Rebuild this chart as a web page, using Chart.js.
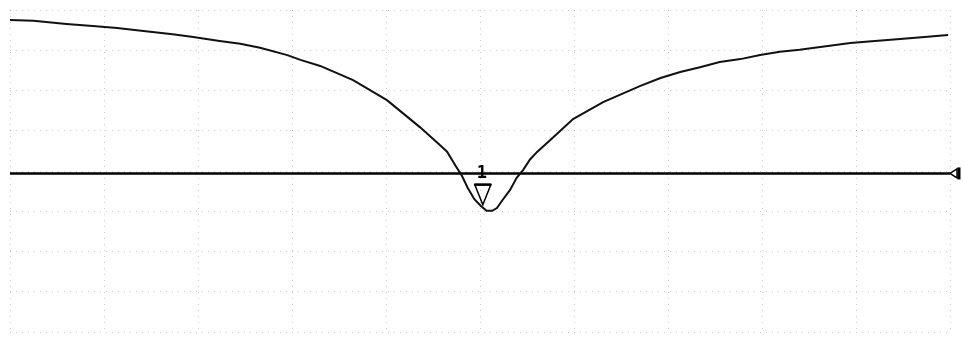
<!DOCTYPE html>
<html>
<head>
<meta charset="utf-8">
<script src="https://cdn.jsdelivr.net/npm/chart.js@4/dist/chart.umd.min.js"></script>
<style>
  html, body { margin: 0; padding: 0; background: #fff; }
  #wrap { width: 964px; height: 339px; position: relative; }
</style>
</head>
<body>
<div id="wrap"><canvas id="trace"></canvas></div>
<script>
// ===== DATA =====
// frequency in divisions (0..10), level in dB (10 dB/div, top = 0 dB)
const freq = [0, 0.25, 0.6, 0.88, 1.14, 1.42, 1.73, 1.95, 2.23, 2.45, 2.66, 2.95, 3.09, 3.3,
  3.65, 4.01, 4.36, 4.57, 4.65, 4.73, 4.81, 4.87, 4.94, 5.01, 5.07, 5.13, 5.18, 5.24, 5.32,
  5.39, 5.46, 5.53, 5.61, 5.78, 5.99, 6.31, 6.7, 6.92, 7.13, 7.34, 7.55, 7.77, 7.98, 8.19,
  8.4, 8.72, 8.94, 9.2, 9.47, 9.73, 9.98];
const level = [-2.5, -2.7, -3.5, -4.0, -4.5, -5.2, -6.0, -6.7, -7.7, -8.4, -9.4, -11.2, -12.4, -13.9,
  -17.4, -22.4, -29.1, -33.5, -35.2, -38.3, -41.3, -44.2, -47.0, -48.7, -49.9, -49.9, -49.2, -47.2, -44.7,
  -41.7, -39.7, -37.2, -35.2, -31.6, -27.1, -22.9, -18.9, -16.9, -15.4, -14.2, -12.9, -12.2, -11.2, -10.4,
  -9.9, -8.9, -8.2, -7.7, -7.2, -6.7, -6.2];

const refLevel = -40.6;
const markerLabel = '1';
const markerFreq = 5.03;
const markerLevel = -48.4;

const X_MIN = 0, X_MAX = 10;
const Y_MIN = -80, Y_MAX = 0;

// ===== MARKERS (drawn through the chart scales) =====
const markerPlugin = {
  id: 'markers',
  afterDatasetsDraw(chart) {
    const { ctx, scales: { x, y } } = chart;
    ctx.save();
    ctx.strokeStyle = '#000';
    ctx.fillStyle = '#000';

    // marker 1: inverted triangle with tip on the trace
    const mx = x.getPixelForValue(markerFreq);
    const my = y.getPixelForValue(markerLevel);
    ctx.lineWidth = 1.5;
    ctx.beginPath();
    ctx.moveTo(mx, my);
    ctx.lineTo(mx - 8, my - 20);
    ctx.lineTo(mx + 8, my - 20);
    ctx.closePath();
    ctx.stroke();
    ctx.fillRect(mx - 8.5, my - 21.5, 17, 2.5);
    ctx.font = 'bold 17px "DejaVu Sans Mono", monospace';
    ctx.textAlign = 'center';
    ctx.textBaseline = 'alphabetic';
    ctx.fillText(markerLabel, mx - 1, my - 27);

    // reference level marker at the right end
    const rx = x.getPixelForValue(X_MAX);
    const ry = y.getPixelForValue(refLevel);
    ctx.lineWidth = 1.5;
    ctx.beginPath();
    ctx.moveTo(rx, ry);
    ctx.lineTo(rx + 7, ry - 4.5);
    ctx.lineTo(rx + 7, ry + 4.5);
    ctx.closePath();
    ctx.stroke();
    ctx.fillRect(rx + 7.5, ry - 6, 3, 12);
    ctx.restore();
  }
};

// ===== CHART =====
const gridStyle = {
  color: 'rgba(0,0,0,0.2)',
  lineWidth: 1,
  drawTicks: false,
};

new Chart(document.getElementById('trace'), {
  type: 'scatter',
  data: {
    datasets: [
      {
        label: 'trace',
        data: freq.map((f, i) => ({ x: f, y: level[i] })),
        showLine: true,
        borderColor: '#111',
        borderWidth: 2,
        pointRadius: 0,
        tension: 0,
      },
      {
        label: 'reference',
        data: [{ x: X_MIN, y: refLevel }, { x: X_MAX, y: refLevel }],
        showLine: true,
        borderColor: '#000',
        borderWidth: 2.5,
        pointRadius: 0,
      },
    ],
  },
  options: {
    responsive: true,
    maintainAspectRatio: false,
    animation: false,
    layout: { padding: { left: 10, right: 14, top: 10, bottom: 7 } },
    plugins: {
      legend: { display: false },
      tooltip: { enabled: false },
    },
    scales: {
      x: {
        type: 'linear',
        min: X_MIN, max: X_MAX,
        ticks: { display: false, stepSize: 1 },
        grid: gridStyle,
        border: { display: false, dash: [1, 5] },
      },
      y: {
        type: 'linear',
        min: Y_MIN, max: Y_MAX,
        ticks: { display: false, stepSize: 10 },
        grid: gridStyle,
        border: { display: false, dash: [1, 5] },
      },
    },
  },
  plugins: [markerPlugin],
});
</script>
</body>
</html>
